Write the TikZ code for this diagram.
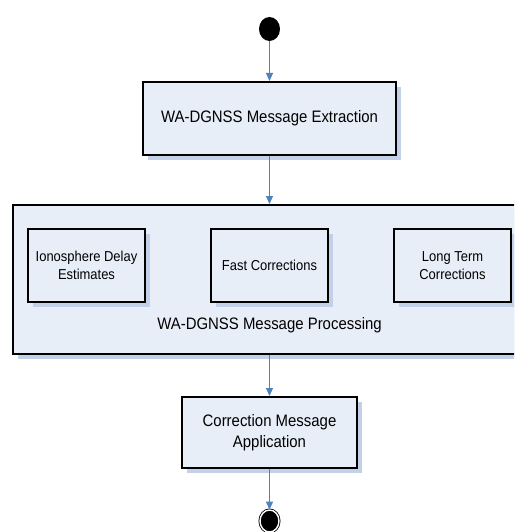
\documentclass[tikz,border=0pt]{standalone}
\usepackage{fontspec}
\setmainfont{Liberation Sans}[FakeStretch=0.9]
\usetikzlibrary{shapes.geometric,arrows.meta,shadows}
\definecolor{boxfill}{HTML}{E8EEF8}
\definecolor{shcol}{HTML}{C2D0E8}
\definecolor{arrcol}{HTML}{4F81BD}
\begin{document}
\begin{tikzpicture}[x=1pt,y=-1pt,
  box/.style={draw=black,line width=2pt,fill=boxfill,inner sep=0pt,align=center,
    general shadow={shadow xshift=5pt,shadow yshift=-5pt,fill=shcol}},
  bigtext/.style={font=\fontsize{16.6}{21}\selectfont},
  smalltext/.style={font=\fontsize{14.4}{18.5}\selectfont},
  flow/.style={draw=arrcol,line width=1.2pt,-{Triangle[width=7pt,length=8pt]}},
  startnode/.style={ellipse,fill=black,inner sep=0pt,minimum width=21pt,minimum height=24pt},
  endnode/.style={ellipse,fill=black,draw=black,double=white,double distance=1.4pt,line width=0.8pt,inner sep=0pt,minimum width=19pt,minimum height=22pt}]
\useasboundingbox (0,0) rectangle (514,532);
\clip (0,0) rectangle (514,532);
\node[startnode] (start) at (269.5,29) {};
\node[box,bigtext,minimum width=253pt,minimum height=73pt] (ext) at (269.5,118.5) {WA-DGNSS Message Extraction};
\node[box,minimum width=517pt,minimum height=149pt] (proc) at (271.5,279.5) {};
\node[box,smalltext,minimum width=117pt,minimum height=73pt] (iono) at (86.5,265.5) {Ionosphere Delay\\Estimates};
\node[box,smalltext,minimum width=117pt,minimum height=73pt] (fast) at (269.5,265.5) {Fast Corrections};
\node[box,smalltext,minimum width=117pt,minimum height=73pt] (long) at (452.5,265.5) {Long Term\\Corrections};
\node[bigtext,inner sep=0pt] (proclabel) at (269.5,325) {WA-DGNSS Message Processing};
\node[box,bigtext,minimum width=175pt,minimum height=71pt] (app) at (269.5,432.5) {Correction Message\\Application};
\node[endnode] (end) at (269.5,521) {};
\draw[flow] (start) -- (ext);
\draw[flow] (ext.south) -- (ext.south |- proc.north);
\draw[flow] (app.north |- proc.south) -- (app.north);
\draw[flow] (app) -- (end);
\end{tikzpicture}
\end{document}
